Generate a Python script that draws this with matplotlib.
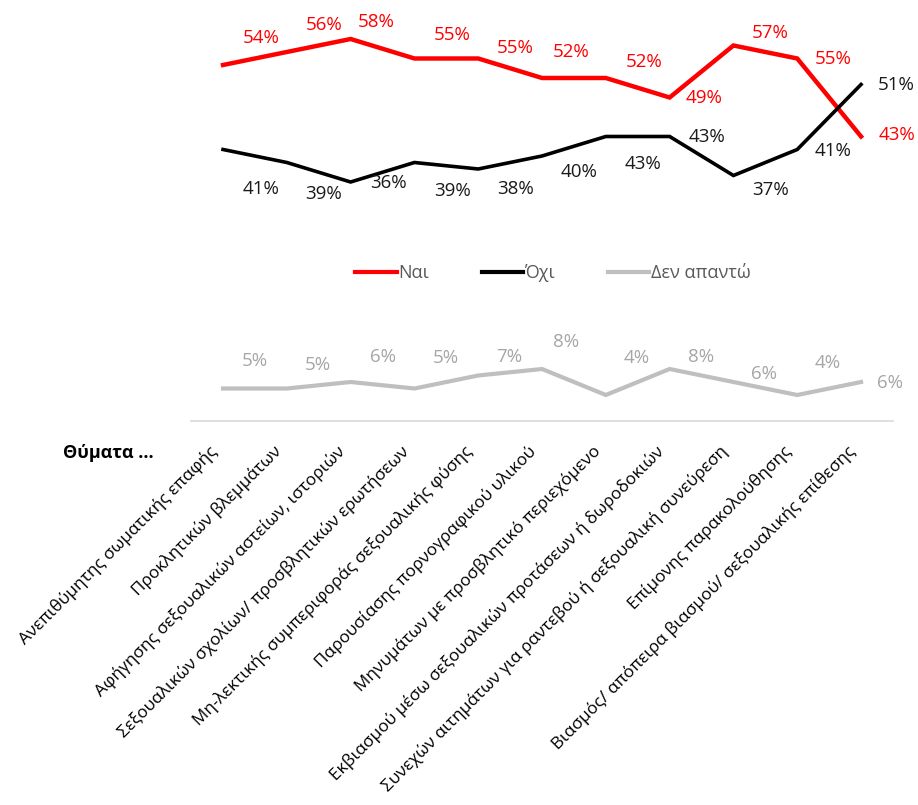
import matplotlib
matplotlib.use('Agg')
import matplotlib.pyplot as plt
import matplotlib.transforms as mtransforms
from matplotlib.lines import Line2D

# data
categories = [
    'Ανεπιθύμητης σωματικής επαφής',
    'Προκλητικών βλεμμάτων',
    'Αφήγησης σεξουαλικών αστείων, ιστοριών',
    'Σεξουαλικών σχολίων/ προσβλητικών ερωτήσεων',
    'Μη-λεκτικής συμπεριφοράς σεξουαλικής φύσης',
    'Παρουσίασης πορνογραφικού υλικού',
    'Μηνυμάτων με προσβλητικό περιεχόμενο',
    'Εκβιασμού μέσω σεξουαλικών προτάσεων ή δωροδοκιών',
    'Συνεχών αιτημάτων για ραντεβού ή σεξουαλική συνεύρεση',
    'Επίμονης παρακολούθησης',
    'Βιασμός/ απόπειρα βιασμού/ σεξουαλικής επίθεσης',
]
yes_vals = [54, 56, 58, 55, 55, 52, 52, 49, 57, 55, 43]
no_vals = [41, 39, 36, 39, 38, 40, 43, 43, 37, 41, 51]
na_vals = [5, 5, 6, 5, 7, 8, 4, 8, 6, 4, 6]
series_names = ['Ναι', 'Όχι', 'Δεν απαντώ']

# label offsets in pixels (dx, dy up)
yes_off = [(38, 27), (37, 27), (26, 17), (38, 23), (37, 10), (29, 26),
           (38, 16), (34, -1), (37, 12), (36, -1), (36, 1)]
no_off = [(38, -40), (37, -32), (38, -1), (38, -29), (37, -20), (37, -16),
          (37, -28), (37, -1), (37, -15), (36, -2), (35, -1)]
na_off = [(32, 27), (31, 23), (32, 25), (31, 30), (31, 18), (24, 27),
          (31, 37), (31, 12), (31, 8), (30, 32), (29, -1)]

RED = '#FF0000'
BLACK = '#000000'
GREY = '#BFBFBF'
lab_font = ['Open Sans', 'DejaVu Sans']

fig = plt.figure(figsize=(9.18, 8.05), dpi=100)
x = list(range(len(categories)))

ax_top = fig.add_axes([0.2082, 0.72547, 0.7645, 0.25839])
ax_bot = fig.add_axes([0.2082, 0.47702, 0.7645, 0.08075])

ax_top.plot(x, yes_vals, color=RED, lw=3.2, solid_joinstyle='miter')
ax_top.plot(x, no_vals, color=BLACK, lw=2.6, solid_joinstyle='miter')
ax_bot.plot(x, na_vals, color=GREY, lw=3, solid_joinstyle='miter')

def put_labels(ax, vals, offs, color):
    for i, v in enumerate(vals):
        ax.annotate(f'{v}%', (i, v), xytext=offs[i], textcoords='offset pixels',
                    ha='center', va='center', fontsize=13.5, color=color,
                    family=lab_font, annotation_clip=False)

put_labels(ax_top, yes_vals, yes_off, RED)
put_labels(ax_top, no_vals, no_off, '#1A1A1A')
put_labels(ax_bot, na_vals, na_off, '#A6A6A6')

ax_top.set_xlim(-0.5, 10.5)
ax_top.set_ylim(30, 62)
ax_top.axis('off')

ax_bot.set_xlim(-0.5, 10.5)
ax_bot.set_ylim(0, 10)
for s in ['top', 'left', 'right']:
    ax_bot.spines[s].set_visible(False)
ax_bot.spines['bottom'].set_color('#D9D9D9')
ax_bot.spines['bottom'].set_linewidth(1.2)
ax_bot.set_yticks([])
ax_bot.set_xticks(x)
ax_bot.set_xticklabels(categories, rotation=45, ha='right', va='center',
                       rotation_mode='anchor', fontsize=12.4, family=lab_font)
ax_bot.tick_params(axis='x', length=0, pad=20)
shift = mtransforms.ScaledTranslation(-8 / 100, 0, fig.dpi_scale_trans)
for lbl in ax_bot.get_xticklabels():
    lbl.set_transform(lbl.get_transform() + shift)
ax_bot.patch.set_visible(False)

fig.text(63 / 918, 1 - 453 / 805, 'Θύματα ...', fontsize=13, fontweight='bold',
         ha='left', va='center', family=lab_font)

# legend
handles = [Line2D([], [], color=RED, lw=3),
           Line2D([], [], color=BLACK, lw=3),
           Line2D([], [], color=GREY, lw=3)]
fig.legend(handles, series_names, loc='center', bbox_to_anchor=(553 / 918, 1 - 273 / 805),
           ncol=3, frameon=False, handlelength=2.3, handletextpad=0.1,
           columnspacing=2.9, prop={'family': lab_font, 'size': 13}, labelcolor='#595959')

fig.savefig('out.png', dpi=100, facecolor='white')
